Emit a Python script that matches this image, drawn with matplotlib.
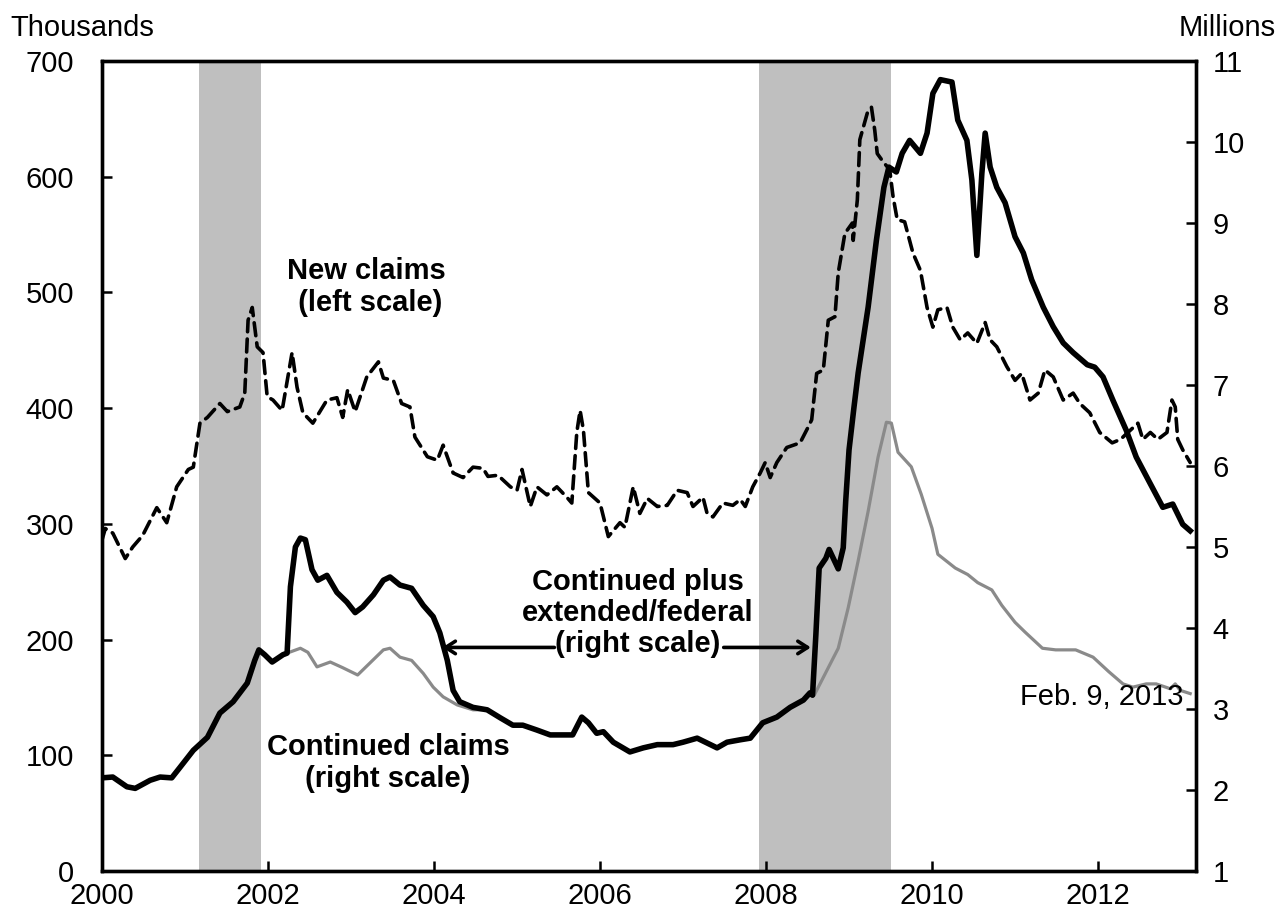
import matplotlib
matplotlib.use("Agg")
import matplotlib.pyplot as plt

plt.rcParams['font.family'] = ['Liberation Sans', 'DejaVu Sans']

# ---- New claims (thousands, left scale) ----
new_x = [2000.00, 2000.04, 2000.13, 2000.28, 2000.37, 2000.49, 2000.66, 2000.78, 2000.90, 2001.04,
         2001.10, 2001.18, 2001.27, 2001.42, 2001.51, 2001.66, 2001.72, 2001.76, 2001.81, 2001.87,
         2001.94, 2001.99, 2002.06, 2002.17, 2002.29, 2002.35, 2002.42, 2002.54, 2002.71, 2002.83,
         2002.90, 2002.96, 2003.05, 2003.19, 2003.33, 2003.39, 2003.51, 2003.61, 2003.71, 2003.77,
         2003.92, 2004.04, 2004.11, 2004.23, 2004.35, 2004.47, 2004.59, 2004.65, 2004.77, 2004.92,
         2005.00, 2005.06, 2005.16, 2005.24, 2005.36, 2005.48, 2005.60, 2005.66, 2005.72, 2005.76,
         2005.80, 2005.86, 2006.00, 2006.10, 2006.24, 2006.30, 2006.40, 2006.48, 2006.57, 2006.69,
         2006.81, 2006.93, 2007.05, 2007.12, 2007.24, 2007.29, 2007.36, 2007.48, 2007.60, 2007.69,
         2007.75, 2007.84, 2007.93, 2007.99, 2008.05, 2008.13, 2008.25, 2008.41, 2008.51, 2008.55,
         2008.61, 2008.69, 2008.75, 2008.83, 2008.87, 2008.95, 2009.04, 2009.05, 2009.10, 2009.13,
         2009.22, 2009.27, 2009.31, 2009.34, 2009.41, 2009.49, 2009.53, 2009.58, 2009.67, 2009.77,
         2009.86, 2009.94, 2010.01, 2010.07, 2010.18, 2010.25, 2010.34, 2010.43, 2010.54, 2010.64,
         2010.70, 2010.78, 2010.90, 2011.00, 2011.08, 2011.18, 2011.28, 2011.36, 2011.46, 2011.58,
         2011.70, 2011.78, 2011.90, 2012.02, 2012.17, 2012.27, 2012.39, 2012.48, 2012.54, 2012.63,
         2012.72, 2012.83, 2012.89, 2012.93, 2012.96, 2013.02, 2013.11]
new_v = [286, 296, 292, 270, 280, 290, 314, 301, 332, 347,
         349, 387, 392, 404, 397, 401, 413, 476, 487, 453,
         448, 410, 407, 398, 448, 418, 396, 387, 407, 409,
         392, 416, 397, 427, 440, 426, 424, 404, 401, 375,
         358, 355, 368, 344, 340, 349, 348, 341, 342, 332,
         329, 347, 315, 332, 325, 332, 323, 318, 379, 398,
         381, 327, 318, 289, 301, 297, 332, 309, 322, 315,
         316, 329, 327, 315, 323, 309, 306, 318, 316, 321,
         315, 332, 344, 353, 340, 353, 366, 370, 384, 390,
         430, 433, 476, 479, 517, 551, 560, 545, 580, 632,
         655, 660, 640, 620, 613, 606, 583, 563, 561, 534,
         519, 487, 470, 485, 487, 470, 459, 465, 456, 474,
         459, 453, 436, 424, 430, 407, 413, 433, 427, 407,
         413, 404, 396, 379, 370, 373, 381, 387, 373, 379,
         373, 379, 407, 401, 373, 364, 353]

# ---- Continued claims (millions, right scale) ----
cont_x = [2000.00, 2000.13, 2000.30, 2000.40, 2000.58, 2000.70, 2000.84, 2000.94, 2001.10, 2001.27,
          2001.42, 2001.58, 2001.75, 2001.84, 2001.89, 2001.96, 2002.05, 2002.18, 2002.23, 2002.39,
          2002.48, 2002.59, 2002.75, 2002.90, 2003.08, 2003.23, 2003.39, 2003.47, 2003.59, 2003.73,
          2003.87, 2003.99, 2004.11, 2004.28, 2004.47, 2004.64, 2004.80, 2004.95, 2005.07, 2005.24,
          2005.40, 2005.55, 2005.67, 2005.78, 2005.86, 2005.96, 2006.04, 2006.16, 2006.36, 2006.52,
          2006.69, 2006.88, 2007.00, 2007.17, 2007.29, 2007.41, 2007.53, 2007.69, 2007.81, 2007.96,
          2008.13, 2008.29, 2008.45, 2008.53, 2008.58, 2008.75, 2008.87, 2008.99, 2009.11, 2009.23,
          2009.35, 2009.45, 2009.51, 2009.59, 2009.75, 2009.87, 2010.00, 2010.07, 2010.28, 2010.43,
          2010.55, 2010.72, 2010.84, 2011.00, 2011.12, 2011.33, 2011.49, 2011.73, 2011.94, 2012.13,
          2012.30, 2012.42, 2012.58, 2012.70, 2012.87, 2012.93, 2012.99, 2013.11]
cont_v = [2.15, 2.16, 2.04, 2.02, 2.12, 2.16, 2.15, 2.28, 2.49, 2.65,
          2.95, 3.09, 3.32, 3.60, 3.73, 3.67, 3.58, 3.67, 3.69, 3.75,
          3.70, 3.52, 3.58, 3.51, 3.42, 3.57, 3.73, 3.75, 3.64, 3.60,
          3.44, 3.27, 3.15, 3.05, 2.99, 2.99, 2.89, 2.80, 2.80, 2.74,
          2.68, 2.68, 2.68, 2.90, 2.83, 2.70, 2.72, 2.59, 2.47, 2.52,
          2.56, 2.56, 2.59, 2.64, 2.58, 2.52, 2.59, 2.62, 2.64, 2.83,
          2.90, 3.02, 3.11, 3.20, 3.17, 3.51, 3.75, 4.25, 4.83, 5.44,
          6.11, 6.54, 6.53, 6.17, 5.99, 5.65, 5.23, 4.91, 4.74, 4.66,
          4.56, 4.47, 4.28, 4.07, 3.95, 3.75, 3.73, 3.73, 3.64, 3.46,
          3.31, 3.27, 3.31, 3.31, 3.25, 3.31, 3.23, 3.19]

# ---- Continued plus extended/federal (millions, right scale) ----
tot_x = [2000.00, 2000.13, 2000.30, 2000.40, 2000.58, 2000.70, 2000.84, 2000.94, 2001.10, 2001.27,
         2001.42, 2001.58, 2001.75, 2001.84, 2001.89, 2001.96, 2002.05, 2002.18, 2002.23, 2002.27,
         2002.33, 2002.39, 2002.45, 2002.53, 2002.60, 2002.71, 2002.83, 2002.95, 2003.05, 2003.14,
         2003.27, 2003.39, 2003.47, 2003.59, 2003.73, 2003.87, 2003.99, 2004.07, 2004.16, 2004.23,
         2004.31, 2004.47, 2004.64, 2004.80, 2004.95, 2005.07, 2005.24, 2005.40, 2005.55, 2005.67,
         2005.78, 2005.86, 2005.96, 2006.04, 2006.16, 2006.36, 2006.52, 2006.69, 2006.88, 2007.00,
         2007.17, 2007.29, 2007.41, 2007.53, 2007.69, 2007.81, 2007.96, 2008.13, 2008.29, 2008.45,
         2008.53, 2008.56, 2008.60, 2008.64, 2008.72, 2008.76, 2008.87, 2008.93, 2008.96, 2009.00,
         2009.06, 2009.11, 2009.23, 2009.33, 2009.42, 2009.48, 2009.57, 2009.64, 2009.73, 2009.86,
         2009.94, 2010.01, 2010.10, 2010.24, 2010.31, 2010.42, 2010.48, 2010.54, 2010.60, 2010.64,
         2010.70, 2010.78, 2010.88, 2011.00, 2011.10, 2011.20, 2011.34, 2011.46, 2011.58, 2011.70,
         2011.87, 2011.96, 2012.06, 2012.18, 2012.34, 2012.46, 2012.63, 2012.78, 2012.90, 2013.02,
         2013.11]
tot_v = [2.15, 2.16, 2.04, 2.02, 2.12, 2.16, 2.15, 2.28, 2.49, 2.65,
         2.95, 3.09, 3.32, 3.60, 3.73, 3.67, 3.58, 3.67, 3.69, 4.51,
         5.00, 5.11, 5.09, 4.72, 4.59, 4.65, 4.44, 4.32, 4.19, 4.26,
         4.41, 4.59, 4.63, 4.53, 4.49, 4.28, 4.14, 3.94, 3.60, 3.23,
         3.09, 3.02, 2.99, 2.89, 2.80, 2.80, 2.74, 2.68, 2.68, 2.68,
         2.90, 2.83, 2.70, 2.72, 2.59, 2.47, 2.52, 2.56, 2.56, 2.59,
         2.64, 2.58, 2.52, 2.59, 2.62, 2.64, 2.83, 2.90, 3.02, 3.11,
         3.20, 3.17, 3.91, 4.74, 4.86, 4.97, 4.73, 4.99, 5.57, 6.20,
         6.73, 7.15, 7.96, 8.79, 9.44, 9.69, 9.63, 9.86, 10.02, 9.86,
         10.11, 10.60, 10.77, 10.74, 10.27, 10.02, 9.53, 8.60, 9.61, 10.11,
         9.69, 9.44, 9.25, 8.83, 8.63, 8.30, 7.96, 7.72, 7.52, 7.40,
         7.25, 7.22, 7.10, 6.81, 6.44, 6.11, 5.78, 5.49, 5.53, 5.28,
         5.20]

recessions = [(2001.17, 2001.92), (2007.92, 2009.50)]

x_ticks = [2000, 2002, 2004, 2006, 2008, 2010, 2012]
left_ticks = [0, 100, 200, 300, 400, 500, 600, 700]
right_ticks = [1, 2, 3, 4, 5, 6, 7, 8, 9, 10, 11]

W, H = 1280, 918
fig = plt.figure(figsize=(W / 100, H / 100), dpi=100)
ax = fig.add_axes([102 / W, 1 - 871 / H, (1196 - 102) / W, (871 - 61) / H])
ax2 = ax.twinx()

for a, b in recessions:
    ax.axvspan(a, b, color='#bfbfbf', lw=0, zorder=0)

ax.plot(new_x, new_v, color='black', lw=2.6, ls=(0, (3.6, 2.0)), zorder=3,
        dash_capstyle='round')
ax2.plot(cont_x, cont_v, color='#8a8a8a', lw=2.3, zorder=2)
ax2.plot(tot_x, tot_v, color='black', lw=4.0, zorder=3, solid_joinstyle='round')

ax.set_xlim(2000, 2013.18)
ax.set_ylim(0, 700)
ax2.set_ylim(1, 11)
ax.set_xticks(x_ticks)
ax.set_xticklabels([str(t) for t in x_ticks])
ax.set_yticks(left_ticks)
ax2.set_yticks(right_ticks)

fs = 21
ax.tick_params(axis='x', direction='in', length=7, width=1.8, labelsize=fs, pad=8)
ax.tick_params(axis='y', direction='in', length=7, width=1.8, labelsize=fs, pad=20)
ax2.tick_params(axis='y', direction='in', length=7, width=1.8, labelsize=fs, pad=12)
for a in (ax, ax2):
    for s in a.spines.values():
        s.set_linewidth(2.4)
ax.patch.set_visible(False)

fig.text(10 / W, 1 - 28 / H, 'Thousands', fontsize=fs, ha='left', va='center')
fig.text(1227 / W, 1 - 28 / H, 'Millions', fontsize=fs, ha='center', va='center')

fig.text(366 / W, 1 - 287 / H, 'New claims\n (left scale)', fontsize=fs, fontweight='bold',
         ha='center', va='center', linespacing=1.2)
fig.text(638 / W, 1 - 613 / H, 'Continued plus\nextended/federal\n(right scale)', fontsize=fs,
         fontweight='bold', ha='center', va='center', linespacing=1.15)
fig.text(388 / W, 1 - 763 / H, 'Continued claims\n(right scale)', fontsize=fs, fontweight='bold',
         ha='center', va='center', linespacing=1.15)
fig.text(1183 / W, 1 - 697 / H, 'Feb. 9, 2013', fontsize=fs, ha='right', va='center')

arrow_kw = dict(arrowstyle='->,head_length=0.7,head_width=0.45', lw=2.6, color='black',
                shrinkA=0, shrinkB=0)
ax2.annotate('', xy=(2004.10, 3.76), xytext=(2005.45, 3.76), arrowprops=arrow_kw)
ax2.annotate('', xy=(2008.54, 3.76), xytext=(2007.49, 3.76), arrowprops=arrow_kw)

fig.savefig('out.png', dpi=100)
